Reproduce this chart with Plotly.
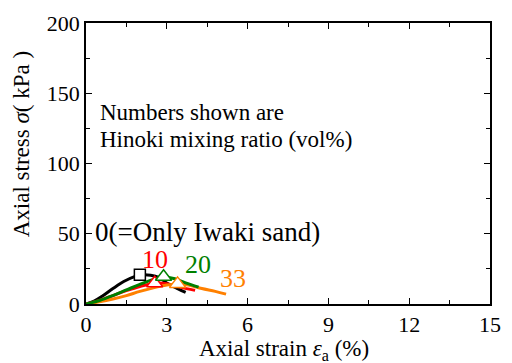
import plotly.graph_objects as go

# Data (axial strain %, axial stress kPa)
strain_0 = [0, 0.3, 0.6, 1.0, 1.4, 1.8, 2.1, 2.4, 2.7, 3.0, 3.4, 3.7]
stress_0 = [0, 2, 5.5, 11, 16, 19.5, 20.8, 20.5, 19, 15, 11, 8.3]
strain_10 = [0, 0.5, 1.0, 1.5, 2.0, 2.55, 3.0, 3.5, 4.05]
stress_10 = [0, 2.5, 6, 9.5, 12.5, 14.8, 14.5, 12, 9.7]
strain_20 = [0, 0.5, 1.0, 1.5, 2.0, 2.5, 2.88, 3.3, 3.7, 4.18]
stress_20 = [0, 2.5, 6, 10, 14, 17.5, 19.2, 18, 15, 12]
strain_33 = [0, 0.5, 1.0, 1.5, 2.0, 2.5, 3.0, 3.4, 3.8, 4.3, 4.8, 5.2]
stress_33 = [0, 1.5, 3.5, 6, 9, 11.5, 13.5, 14.3, 13.5, 11, 9, 7]

peak_0 = (2.0, 20.8)
peak_10 = (2.55, 14.8)
peak_20 = (2.88, 19.4)
peak_33 = (3.4, 14.3)

x_ticks = [0, 3, 6, 9, 12, 15]
y_ticks = [0, 50, 100, 150, 200]

FONT = "Liberation Serif, Times New Roman, serif"
BLACK, RED, GREEN, ORANGE = "#000000", "#ff0000", "#008000", "#ff8000"

fig = go.Figure()
series = [
    (strain_0, stress_0, BLACK, peak_0, "square", 11),
    (strain_10, stress_10, RED, peak_10, "triangle-up", 14),
    (strain_33, stress_33, ORANGE, peak_33, "triangle-up", 14),
    (strain_20, stress_20, GREEN, peak_20, "triangle-up", 14),
]
for sx, sy, col, pk, sym, sz in series:
    fig.add_trace(go.Scatter(x=sx, y=sy, mode="lines", line=dict(color=col, width=3),
                             line_shape="spline", showlegend=False, hoverinfo="skip"))
for sx, sy, col, pk, sym, sz in series:
    fig.add_trace(go.Scatter(x=[pk[0]], y=[pk[1]], mode="markers",
                             marker=dict(symbol=sym, size=sz, color="white",
                                         line=dict(color=col, width=1.5)),
                             showlegend=False, hoverinfo="skip"))

axis_common = dict(showline=True, linecolor="black", linewidth=1.5, mirror="ticks",
                   ticks="inside", ticklen=6, tickwidth=1, tickcolor="black",
                   showgrid=False, zeroline=False,
                   tickfont=dict(family=FONT, size=22, color="black"))
fig.update_xaxes(range=[0, 15], tickvals=x_ticks, ticktext=[str(v) for v in x_ticks],
                 minor=dict(ticks="inside", ticklen=4, dtick=1.5, tickcolor="black"),
                 **axis_common)
fig.update_yaxes(range=[0, 200], tickvals=y_ticks, ticktext=[str(v) for v in y_ticks],
                 minor=dict(ticks="inside", ticklen=4, dtick=25, tickcolor="black"),
                 **axis_common)

ann = []
ann.append(dict(x=0.25, y=51.5, xref="x", yref="y", text="0(=Only Iwaki sand)", showarrow=False,
                xanchor="left", yanchor="middle", font=dict(family=FONT, size=27, color=BLACK)))
ann.append(dict(x=2.55, y=32, xref="x", yref="y", text="10", showarrow=False,
                font=dict(family=FONT, size=26, color=RED)))
ann.append(dict(x=4.15, y=28, xref="x", yref="y", text="20", showarrow=False,
                font=dict(family=FONT, size=26, color=GREEN)))
ann.append(dict(x=5.45, y=18.5, xref="x", yref="y", text="33", showarrow=False,
                font=dict(family=FONT, size=26, color=ORANGE)))
ann.append(dict(x=0.45, y=136, xref="x", yref="y", text="Numbers shown are", showarrow=False,
                xanchor="left", yanchor="middle", font=dict(family=FONT, size=23, color=BLACK)))
ann.append(dict(x=0.45, y=117, xref="x", yref="y", text="Hinoki mixing ratio (vol%)", showarrow=False,
                xanchor="left", yanchor="middle", font=dict(family=FONT, size=23, color=BLACK)))
# axis titles (pixel positions, converted to paper coords below)
ann.append(dict(x=289, y=351, xref="paper", yref="paper", text="Axial strain <i>ε</i><sub>a</sub> (%)",
                showarrow=False, font=dict(family=FONT, size=23, color=BLACK)))
ann.append(dict(x=20, y=140, xref="paper", yref="paper", text="Axial stress <i>σ</i>( kPa )",
                textangle=-90, showarrow=False, font=dict(family=FONT, size=23, color=BLACK)))

L, R, T, B = 86, 11, 15, 59
W, H = 512, 363
pw, ph = W - L - R, H - T - B
for a in ann:
    if a["xref"] == "paper":
        px, py = a["x"], a["y"]
        a["x"] = (px - L) / pw
        a["y"] = (H - B - py) / ph
        a["xanchor"] = "center"
        a["yanchor"] = "middle"

fig.update_layout(width=W, height=H, margin=dict(l=L, r=R, t=T, b=B),
                  plot_bgcolor="white", paper_bgcolor="white",
                  annotations=ann, font=dict(family=FONT, color="black"))
fig.write_html("out.html")
